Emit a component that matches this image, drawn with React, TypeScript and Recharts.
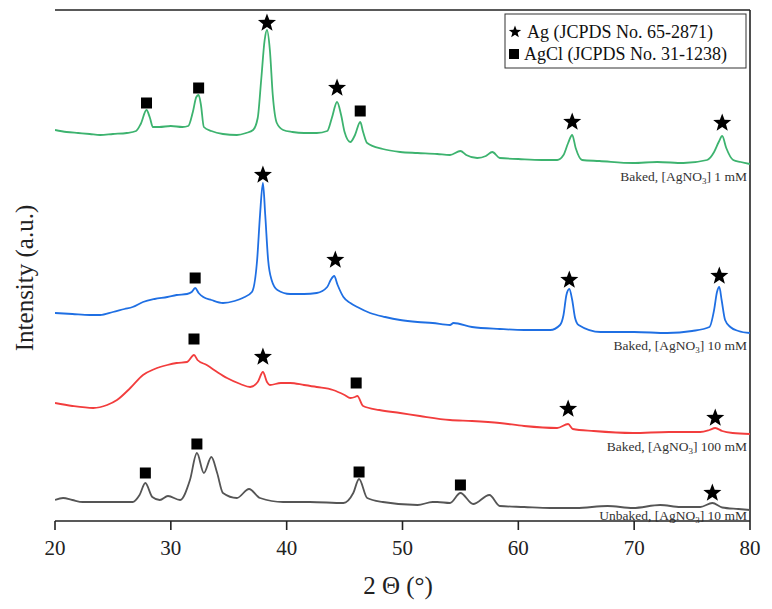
import {
  ComposedChart,
  Line,
  Scatter,
  XAxis,
  YAxis,
  ReferenceLine,
  Customized,
} from "recharts";

// 2θ (deg) vs offset intensity (a.u., stacked)
const baked1mM: [number, number][] = [
  [20, 391], [21, 389], [22, 388], [23, 387], [23.9, 386], [25, 387], [26.2, 388],
  [27, 390], [27.4, 397], [27.9, 411], [28.2, 403], [28.45, 394], [29, 394], [30, 395],
  [31, 394], [31.5, 395], [31.9, 409], [32.2, 424], [32.4, 426], [32.6, 416], [32.85, 394],
  [33.5, 390], [34.5, 387], [35.7, 386], [36.5, 388], [37.1, 391], [37.5, 403], [37.8, 441],
  [38.1, 481], [38.3, 491], [38.55, 471], [38.8, 426], [39.15, 398], [39.7, 391], [40.5, 389],
  [41.5, 388], [42.6, 388], [43.5, 390], [43.9, 403], [44.35, 419], [44.7, 406], [45, 389],
  [45.5, 379], [45.9, 386], [46.35, 399], [46.6, 389], [46.95, 378], [48.3, 372], [49.8, 369],
  [51.3, 368], [53, 367], [54.1, 366], [55, 370], [55.5, 366], [56.45, 363], [57.2, 365],
  [57.75, 369], [58.4, 363], [60, 362], [62, 361], [63.35, 361], [63.9, 366], [64.3, 378],
  [64.65, 386], [64.95, 373], [65.5, 361], [67, 360], [69.9, 358], [72, 359], [74.25, 358],
  [76.3, 361], [76.9, 369], [77.3, 379], [77.6, 385], [77.95, 373], [78.55, 361], [79.2, 359],
  [80, 357],
];

const baked10mM: [number, number][] = [
  [20, 208], [21.5, 207], [23, 206], [23.9, 206], [25, 209], [26, 212], [26.7, 214],
  [27.6, 219], [28.6, 222], [29.7, 224], [30.5, 226], [31.4, 227], [31.8, 229], [32.1, 233],
  [32.4, 228], [32.8, 224], [33.5, 221], [34.5, 218], [35.5, 220], [36.2, 223], [37, 229],
  [37.45, 261], [37.7, 306], [37.95, 338], [38.15, 306], [38.4, 261], [38.7, 241], [39.2, 231],
  [40.3, 227], [41.5, 227], [42.6, 228], [43.5, 234], [43.8, 241], [44.1, 245], [44.4, 236],
  [44.9, 224], [45.5, 218], [46.1, 214], [47.2, 208], [48.5, 204], [49.8, 201], [51.3, 199],
  [52.6, 198], [54.1, 196], [54.4, 198], [56, 194], [58.4, 192], [60.5, 191], [62.75, 191],
  [63.6, 196], [63.9, 206], [64.15, 226], [64.4, 232], [64.65, 221], [64.9, 203], [65.2, 196],
  [67.1, 189], [70, 189], [72.85, 188], [75, 190], [76.5, 194], [76.9, 211], [77.15, 229],
  [77.35, 234], [77.55, 221], [77.85, 201], [78.3, 194], [79, 190], [80, 188],
];

const baked100mM: [number, number][] = [
  [20, 118], [21.5, 115], [23.3, 113], [24.5, 116], [25.35, 121], [26.5, 133], [27.6, 146],
  [28.6, 152], [29.7, 156], [30.5, 158], [31.4, 159], [32, 166], [32.3, 161], [33.1, 156],
  [34, 149], [34.85, 143], [36, 137], [36.85, 134], [37.5, 139], [37.95, 149], [38.3, 139],
  [38.55, 136], [39.5, 138], [40.3, 138], [41.5, 136], [42.6, 134], [44, 131], [45, 126],
  [45.5, 123], [45.9, 124], [46.1, 125], [46.6, 115], [48, 111], [49.8, 108], [51.5, 105],
  [54.1, 101], [56, 100], [58.4, 98], [60.5, 95], [63.35, 93], [64.3, 97], [64.7, 92],
  [66.5, 90], [69.9, 88], [73, 89], [75.7, 89], [76.5, 91], [77, 93], [77.6, 90], [78.5, 88],
  [80, 87],
];

const unbaked10mM: [number, number][] = [
  [20, 21], [20.7, 23], [21.5, 21], [22.4, 19], [24.5, 19], [26.7, 19], [27.3, 26],
  [27.8, 38], [28.4, 24], [29.05, 21], [29.75, 25], [30.8, 21], [31.65, 41], [32.25, 68],
  [32.85, 48], [33.5, 64], [34, 48], [34.5, 28], [35.7, 23], [36.75, 32], [37.7, 23],
  [39.7, 19], [42, 19], [44.9, 18], [45.75, 28], [46.25, 42], [46.95, 23], [48.3, 19],
  [51.3, 16], [52.6, 19], [53, 19], [54.1, 18], [55, 28], [56.1, 17], [57.5, 26], [58.4, 15],
  [60.5, 14], [62.75, 13], [65, 13], [67.7, 15], [69.9, 13], [72.25, 16], [74, 14],
  [75.7, 14], [76.75, 18], [77.6, 13.5], [79, 12], [80, 11],
];

// peak markers: ★ Ag, ■ AgCl
const agPeaks: [number, number][] = [
  [38.3, 498], [44.35, 433], [64.65, 399], [77.6, 398],
  [37.95, 346], [44.2, 261], [64.4, 241], [77.35, 245],
  [37.95, 164], [64.3, 112], [77, 103],
  [76.75, 28],
];
const agclPeaks: [number, number][] = [
  [27.9, 418], [32.4, 433], [46.35, 410],
  [32.1, 243],
  [32, 182], [46, 138],
  [27.8, 48], [32.25, 77], [46.25, 49], [55, 36],
];

const xTicks = [20, 30, 40, 50, 60, 70, 80];
const seriesColors = ["#3DB36F", "#1F6FE3", "#F23D3D", "#555555"];
const sampleState = ["Baked", "Baked", "Baked", "Unbaked"];
const sampleConc = ["1 mM", "10 mM", "100 mM", "10 mM"];
const legendNames = ["Ag (JCPDS No. 65-2871)", "AgCl (JCPDS No. 31-1238)"];

const toPts = (arr: [number, number][]) => arr.map(([x, v]) => ({ x, v }));
const allSeries = [baked1mM, baked10mM, baked100mM, unbaked10mM];

const serif = "Liberation Serif, DejaVu Serif, serif";

function starPath(cx: number, cy: number, r: number) {
  const pts: string[] = [];
  for (let i = 0; i < 10; i++) {
    const rad = i % 2 === 0 ? r : r * 0.42;
    const a = -Math.PI / 2 + (i * Math.PI) / 5;
    pts.push(`${cx + rad * Math.cos(a)},${cy + rad * Math.sin(a)}`);
  }
  return `M${pts.join("L")}Z`;
}

const StarShape = (props: any) => (
  <path d={starPath(props.cx, props.cy, 9.5)} fill="#000" />
);
const SquareShape = (props: any) => (
  <rect x={props.cx - 5.5} y={props.cy - 5.5} width={11} height={11} fill="#000" />
);

// caption baselines (px) for each curve
const captionY = [181, 350, 451, 520];

const Annotations = () => (
  <g style={{ fontFamily: serif }}>
    {sampleState.map((s, i) => (
      <text key={i} x={747} y={captionY[i]} textAnchor="end" fontSize={13.5} fill="#333" style={{ fontFamily: serif }}>
        <tspan>{`${s}, [AgNO`}</tspan>
        <tspan dy={3} fontSize={9}>3</tspan>
        <tspan dy={-3}>{`] ${sampleConc[i]}`}</tspan>
      </text>
    ))}

    {/* legend box */}
    <rect x={505} y={14} width={241} height={54} fill="#fff" stroke="#333" strokeWidth={1} />
    <path d={starPath(515, 32, 6.5)} fill="#000" />
    <text x={527} y={38} fontSize={18} fill="#111" style={{ fontFamily: serif }}>{legendNames[0]}</text>
    <rect x={509} y={49} width={10} height={10} fill="#000" />
    <text x={524} y={60} fontSize={18} fill="#111" style={{ fontFamily: serif }}>{legendNames[1]}</text>

    {/* axis titles */}
    <text
      x={24}
      y={278}
      transform="rotate(-90 24 278)"
      textAnchor="middle"
      dominantBaseline="central"
      fontSize={25}
      fill="#222"
      style={{ fontFamily: serif }}
    >
      Intensity (a.u.)
    </text>
    <text x={398} y={594} textAnchor="middle" fontSize={25} fill="#222" style={{ fontFamily: serif }}>
      2 Θ (°)
    </text>
  </g>
);

export default function App() {
  return (
    <div style={{ position: "absolute", left: 0, top: 0, width: 772, height: 609, background: "#fff" }}>
      <ComposedChart
        width={772}
        height={609}
        margin={{ top: 10, right: 22, left: 55, bottom: 0 }}
      >
        <XAxis
          dataKey="x"
          type="number"
          domain={[20, 80]}
          ticks={xTicks}
          height={88}
          tickSize={9}
          tickMargin={10}
          axisLine={{ stroke: "#222", strokeWidth: 1.6 }}
          tickLine={{ stroke: "#222", strokeWidth: 1.6 }}
          tick={{ fill: "#222", fontSize: 21, style: { fontFamily: serif } }}
          allowDataOverflow
        />
        <YAxis
          type="number"
          domain={[0, 511]}
          width={0}
          tick={false}
          tickLine={false}
          axisLine={{ stroke: "#222", strokeWidth: 1.6 }}
          allowDataOverflow
        />
        <ReferenceLine y={511} stroke="#222" strokeWidth={1.6} />
        <ReferenceLine x={80} stroke="#222" strokeWidth={1.6} />

        {allSeries.map((s, i) => (
          <Line
            key={i}
            data={toPts(s)}
            dataKey="v"
            type="monotone"
            stroke={seriesColors[i]}
            strokeWidth={1.8}
            dot={false}
            isAnimationActive={false}
          />
        ))}

        <Scatter data={toPts(agPeaks)} dataKey="v" shape={StarShape} isAnimationActive={false} />
        <Scatter data={toPts(agclPeaks)} dataKey="v" shape={SquareShape} isAnimationActive={false} />

        <Customized component={Annotations} />
      </ComposedChart>
    </div>
  );
}
